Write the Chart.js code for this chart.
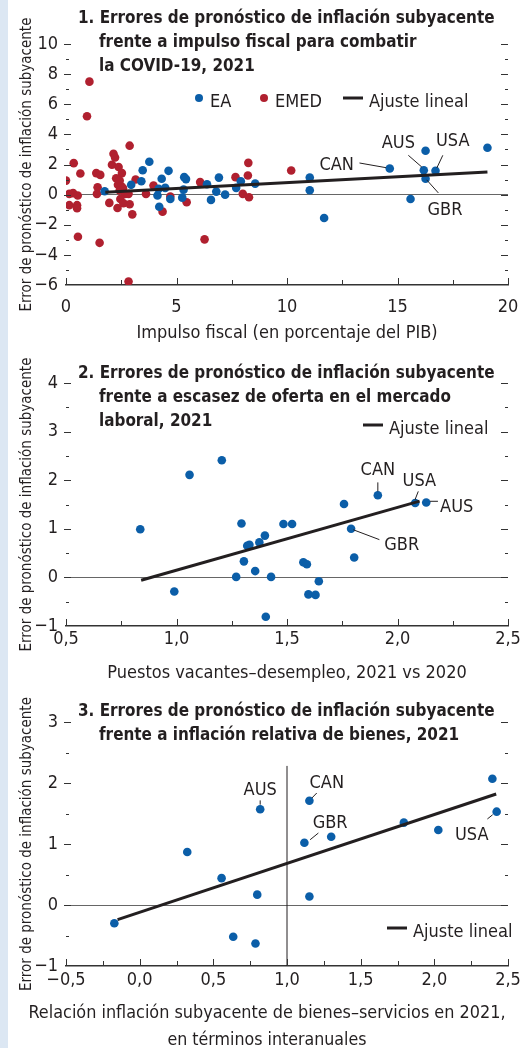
<!DOCTYPE html>
<html>
<head>
<meta charset="utf-8">
<script src="https://cdn.jsdelivr.net/npm/chart.js@4/dist/chart.umd.min.js"></script>
<style>
html, body { margin: 0; padding: 0; background: #fff; width: 522px; height: 1048px; overflow: hidden; }
#strip { position: absolute; left: 0; top: 0; width: 8px; height: 1048px; background: #dce7f3; }
canvas { position: absolute; left: 0; }
</style>
</head>
<body>
<div id="strip"></div>
<canvas id="c1" width="522" height="348" style="top:0px"></canvas>
<canvas id="c2" width="522" height="340" style="top:348px"></canvas>
<canvas id="c3" width="522" height="368" style="top:688px"></canvas>
<script>
// ---- panel 1: fiscal impulse vs core inflation forecast error
const fiscalEA = [[1.75,0.22],[2.95,0.65],[3.41,0.89],[3.47,1.62],[3.77,2.18],[4.19,0.38],[4.14,-0.06],[4.22,-0.8],
  [4.33,1.05],[4.49,0.45],[4.64,1.58],[4.72,-0.29],[5.35,1.16],[5.43,1.03],[5.32,0.33],[5.26,-0.2],[6.38,0.69],
  [6.56,-0.35],[6.8,0.2],[6.92,1.13],[7.2,0.0],[7.7,0.45],[7.91,0.89],[8.56,0.73],[11.03,1.13],[11.03,0.29],
  [11.68,-1.55],[14.65,1.73],[15.59,-0.29],[16.27,2.91],[16.19,1.62],[16.72,1.58],[16.27,1.05],[19.07,3.11]];
const fiscalEMED = [[0.0,0.93],[0.35,2.09],[0.65,1.4],[0.15,0.05],[0.32,0.1],[0.53,-0.06],[0.15,-0.7],[0.5,-0.7],
  [0.5,-0.9],[0.54,-2.8],[1.06,7.5],[0.95,5.2],[1.37,1.43],[1.55,1.31],[1.43,0.49],[1.4,0.05],[1.52,-3.2],
  [1.96,-0.55],[2.08,1.98],[2.15,2.71],[2.22,2.47],[2.38,1.83],[2.53,1.43],[2.27,1.09],[2.43,0.93],[2.35,0.65],
  [2.5,0.56],[2.58,0.43],[2.43,0.27],[2.68,0.05],[2.83,0.05],[2.46,-0.29],[2.33,-0.89],[2.6,-0.57],[2.88,-0.64],
  [3.0,-1.31],[2.88,3.25],[3.15,1.0],[2.83,-5.77],[3.62,0.05],[3.96,0.6],[4.37,-1.13],[4.72,-0.13],[5.46,-0.51],
  [6.07,0.83],[6.27,-2.97],[7.67,1.16],[8.0,0.05],[8.28,-0.17],[8.25,2.11],[8.23,1.27],[10.19,1.6]];
const fiscalFit = [[1.78,0.16],[19.07,1.51]];
const fiscalNotes = [
  {text:'CAN', at:[12.25,2.1], lead:[[13.28,2.1],[14.48,1.79]]},
  {text:'AUS', at:[15.04,3.55], lead:[[15.49,2.61],[16.1,1.83]]},
  {text:'USA', at:[17.5,3.68], lead:[[17.05,2.61],[16.78,1.77]]},
  {text:'GBR', at:[17.15,-0.91], lead:[[16.32,0.98],[16.85,0.11]]}
];
const title1 = ['1. Errores de pronóstico de inflación subyacente', 'frente a impulso fiscal para combatir', 'la COVID-19, 2021'];
const xTitle1 = 'Impulso fiscal (en porcentaje del PIB)';

// ---- panel 2: labour market tightness
const laborPts = [[0.836,0.99],[0.99,-0.29],[1.059,2.11],[1.205,2.41],[1.27,0.01],[1.294,1.11],[1.305,0.33],
  [1.32,0.65],[1.33,0.67],[1.356,0.13],[1.375,0.72],[1.40,0.86],[1.404,-0.81],[1.428,0.01],[1.484,1.1],
  [1.523,1.1],[1.574,0.31],[1.59,0.27],[1.597,-0.35],[1.629,-0.36],[1.644,-0.08],[1.758,1.51],[1.79,1.0],
  [1.804,0.41],[1.911,1.69],[2.08,1.53],[2.13,1.54]];
const laborFit = [[0.84,-0.06],[2.10,1.57]];
const laborNotes = [
  {text:'CAN', at:[1.911,2.26], lead:[[1.911,1.955],[1.911,1.77]]},
  {text:'USA', at:[2.099,2.02], lead:[[2.094,1.77],[2.079,1.595]]},
  {text:'AUS', at:[2.268,1.5], lead:[[2.147,1.566],[2.183,1.566]]},
  {text:'GBR', at:[2.019,0.71], lead:[[1.80,0.98],[1.918,0.777]]}
];
const title2 = ['2. Errores de pronóstico de inflación subyacente', 'frente a escasez de oferta en el mercado', 'laboral, 2021'];
const xTitle2 = 'Puestos vacantes–desempleo, 2021 vs 2020';

// ---- panel 3: relative goods inflation
const goodsPts = [[-0.172,-0.30],[0.323,0.87],[0.556,0.44],[0.635,-0.52],[0.786,-0.63],[0.798,0.17],[0.818,1.57],
  [1.118,1.02],[1.152,1.71],[1.152,0.14],[1.30,1.12],[1.793,1.35],[2.027,1.23],[2.394,2.07],[2.423,1.53]];
const goodsFit = [[-0.15,-0.24],[2.42,1.82]];
const goodsRef = [[1,-1],[1,2.28]];
const goodsNotes = [
  {text:'AUS', at:[0.818,1.91], lead:[[0.818,1.715],[0.818,1.644]]},
  {text:'CAN', at:[1.27,2.03], lead:[[1.202,1.836],[1.169,1.754]]},
  {text:'GBR', at:[1.293,1.37], lead:[[1.213,1.18],[1.157,1.07]]},
  {text:'USA', at:[2.254,1.18], lead:[[2.396,1.48],[2.36,1.41]]}
];
const title3 = ['3. Errores de pronóstico de inflación subyacente', 'frente a inflación relativa de bienes, 2021'];
const xTitle3 = ['Relación inflación subyacente de bienes–servicios en 2021,', 'en términos interanuales'];

const yTitle = 'Error de pronóstico de inflación subyacente';

const FAM = "'Liberation Sans Narrow', 'Arial Narrow', 'DejaVu Sans Condensed', sans-serif";
const INK = '#231f20';
const BLUE = '#0b5ea8';
const RED = '#b0202f';

const toXY = arr => arr.map(p => ({x: p[0], y: p[1]}));
const minus = s => s.replace('-', '\u2212');

// draws titles, legends, country labels and the small tick marks
const extras = {
  id: 'extras',
  afterDraw(chart, args, o) {
    const {ctx, chartArea: a, scales: {x, y}} = chart;
    ctx.save();
    ctx.strokeStyle = '#333';
    ctx.lineWidth = 1;
    const seg = (x1, y1, x2, y2) => { ctx.beginPath(); ctx.moveTo(x1, y1); ctx.lineTo(x2, y2); ctx.stroke(); };
    // y ticks on both sides
    for (let v = y.min + o.yMinor; v <= y.max + 1e-9; v += o.yMinor) {
      const major = Math.abs(v / o.yMajor - Math.round(v / o.yMajor)) < 1e-6;
      const py = Math.round(y.getPixelForValue(v)) + 0.5;
      seg(a.left - (major ? 2 : 0), py, a.left + (major ? 5 : 3), py);
      seg(a.right - (major ? 7 : 3), py, a.right, py);
    }
    // x ticks pointing up
    for (let v = x.min; v <= x.max + 1e-9; v += o.xMinor) {
      const major = Math.abs(v / o.xMajor - Math.round(v / o.xMajor)) < 1e-6;
      const px = Math.round(x.getPixelForValue(v)) + 0.5;
      seg(px, a.bottom, px, a.bottom - (major ? 7 : 5));
    }
    // title, squeezed a little to look like a condensed face
    ctx.fillStyle = INK;
    ctx.textBaseline = 'alphabetic';
    ctx.textAlign = 'left';
    ctx.font = 'bold 18px ' + FAM;
    o.title.forEach((t, i) => {
      ctx.save();
      ctx.translate(i === 0 ? o.titleX : o.titleX2, o.titleY + i * 24);
      ctx.scale(0.94, 1);
      ctx.fillText(t, 0, 0);
      ctx.restore();
    });
    // legend
    ctx.font = '18px ' + FAM;
    o.legend.forEach(item => {
      if (item.dot) {
        ctx.fillStyle = item.dot;
        ctx.beginPath(); ctx.arc(item.x, item.y - 9, 4, 0, Math.PI * 2); ctx.fill();
        ctx.fillStyle = INK;
        ctx.fillText(item.text, item.x + 11, item.y);
      } else {
        ctx.strokeStyle = INK; ctx.lineWidth = 3;
        seg(item.x, item.y - 9, item.x + 20, item.y - 9);
        ctx.fillStyle = INK;
        ctx.fillText(item.text, item.x + 26, item.y);
      }
    });
    // long two-line axis title, drawn here so it is not squeezed to the plot width
    if (o.xTitle) {
      ctx.textAlign = 'center';
      o.xTitle.forEach((t, i) => {
        const w = ctx.measureText(t).width;
        ctx.save();
        ctx.translate(o.xTitleX, o.xTitleY[i]);
        ctx.scale(o.xTitleW[i] / w, 1);
        ctx.fillText(t, 0, 0);
        ctx.restore();
      });
    }
    // country labels with leader lines
    ctx.textAlign = 'center';
    ctx.lineWidth = 1;
    ctx.strokeStyle = INK;
    o.notes.forEach(n => {
      ctx.fillText(n.text, x.getPixelForValue(n.at[0]), y.getPixelForValue(n.at[1]) + 7);
      seg(x.getPixelForValue(n.lead[0][0]), y.getPixelForValue(n.lead[0][1]),
          x.getPixelForValue(n.lead[1][0]), y.getPixelForValue(n.lead[1][1]));
    });
    ctx.restore();
  }
};

function makeChart(id, c) {
  const datasets = [];
  if (c.ref) datasets.push({data: toXY(c.ref), showLine: true, pointRadius: 0, borderColor: INK, borderWidth: 1});
  datasets.push({data: toXY(c.fit), showLine: true, pointRadius: 0, borderColor: INK, borderWidth: 3});
  c.points.forEach(s => datasets.push({data: toXY(s.data), pointRadius: 4.3, pointBackgroundColor: s.color, pointBorderWidth: 0}));
  return new Chart(document.getElementById(id), {
    type: 'scatter',
    data: {datasets},
    plugins: [extras],
    options: {
      responsive: false,
      animation: false,
      events: [],
      layout: {padding: {top: c.padTop, right: 14, bottom: 0, left: 0}},
      plugins: {legend: {display: false}, tooltip: {enabled: false}, extras: c.extras},
      scales: {
        x: {
          type: 'linear', min: c.xMin, max: c.xMax,
          ticks: {stepSize: c.xStep, autoSkip: false, maxRotation: 0, padding: c.xTickPad, color: INK,
            font: {family: FAM, size: 18}, callback: c.xFmt},
          grid: {display: false, drawTicks: false},
          border: {display: true, color: '#333', width: 1.5},
          title: {display: !!c.xTitle, text: c.xTitle, color: INK, font: {family: FAM, size: 18},
            padding: {top: 0, bottom: 4}},
          afterFit: s => { s.height = c.xHeight; s.paddingLeft = 0; s.paddingRight = 0; }
        },
        y: {
          min: c.yMin, max: c.yMax,
          ticks: {stepSize: c.yStep, padding: 8, color: INK, font: {family: FAM, size: 18},
            callback: v => minus(String(v))},
          grid: {drawTicks: false, lineWidth: 1,
            color: g => (g.tick && g.tick.value === 0) ? '#666' : 'rgba(0,0,0,0)'},
          border: {display: false},
          title: {display: true, text: yTitle, color: INK, font: {family: FAM, size: 15},
            padding: {top: 18, bottom: 0}},
          afterFit: s => { s.width = 66; }
        }
      }
    }
  });
}

const intFmt = v => minus(String(v));
const decFmt = v => minus(v.toFixed(1).replace('.', ','));

makeChart('c1', {
  points: [{data: fiscalEA, color: BLUE}, {data: fiscalEMED, color: RED}],
  fit: fiscalFit,
  xMin: 0, xMax: 20, xStep: 5, xFmt: intFmt, xTickPad: 12,
  yMin: -6, yMax: 10, yStep: 2,
  padTop: 44, xHeight: 63, xTitle: xTitle1,
  extras: {title: title1, titleX: 78, titleX2: 99, titleY: 23, yMinor: 1, yMajor: 2, xMinor: 2.5, xMajor: 5,
    legend: [{dot: BLUE, text: 'EA', x: 199, y: 107}, {dot: RED, text: 'EMED', x: 264, y: 107}, {text: 'Ajuste lineal', x: 343, y: 107}],
    notes: fiscalNotes}
});

makeChart('c2', {
  points: [{data: laborPts, color: BLUE}],
  fit: laborFit,
  xMin: 0.5, xMax: 2.5, xStep: 0.5, xFmt: decFmt, xTickPad: 3,
  yMin: -1, yMax: 4, yStep: 1,
  padTop: 35, xHeight: 62, xTitle: xTitle2,
  extras: {title: title2, titleX: 78, titleX2: 99, titleY: 30, yMinor: 0.5, yMajor: 1, xMinor: 0.25, xMajor: 0.5,
    legend: [{text: 'Ajuste lineal', x: 363, y: 86}],
    notes: laborNotes}
});

makeChart('c3', {
  points: [{data: goodsPts, color: BLUE}],
  fit: goodsFit, ref: goodsRef,
  xMin: -0.5, xMax: 2.5, xStep: 0.5, xFmt: decFmt, xTickPad: 4,
  yMin: -1, yMax: 3, yStep: 1,
  padTop: 34, xHeight: 90, xTitle: null,
  extras: {title: title3, titleX: 78, titleX2: 99, titleY: 28, yMinor: 0.5, yMajor: 1, xMinor: 0.25, xMajor: 0.5,
    legend: [{text: 'Ajuste lineal', x: 387, y: 249}],
    xTitle: xTitle3, xTitleX: 267, xTitleY: [330, 357], xTitleW: [477, 199],
    notes: goodsNotes}
});
</script>
</body>
</html>
